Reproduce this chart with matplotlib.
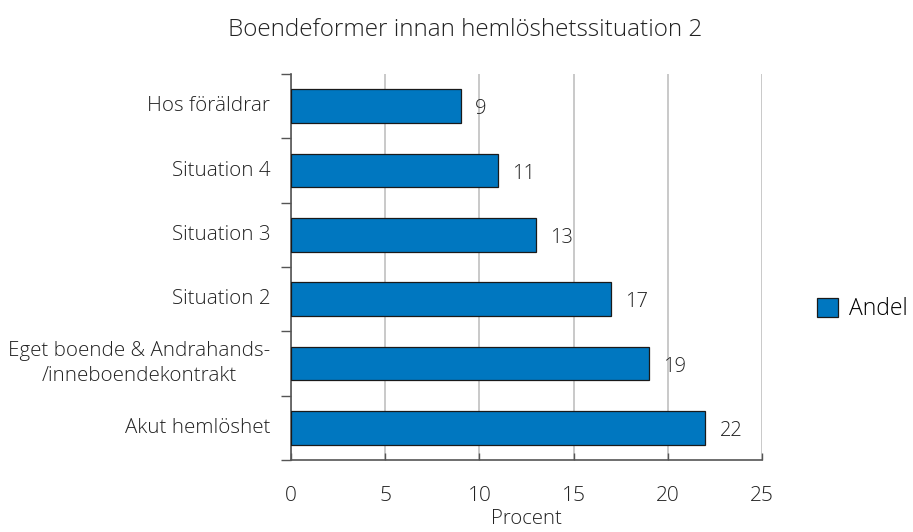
import matplotlib
matplotlib.use("Agg")
import matplotlib.pyplot as plt
from matplotlib.patches import Patch
import numpy as np

categories = ["Akut hemlöshet", "Eget boende & Andrahands-\n/inneboendekontrakt",
              "Situation 2", "Situation 3", "Situation 4", "Hos föräldrar"]
values = [22, 19, 17, 13, 11, 9]
xticks = [0, 5, 10, 15, 20, 25]

plt.rcParams['font.family'] = ['Open Sans', 'DejaVu Sans']
plt.rcParams['font.weight'] = 'light'

fig = plt.figure(figsize=(9.13, 5.32), dpi=100)
ax = fig.add_axes([291/913, 1-460/532, (762-291)/913, (460-74)/532])

color = '#0077c0'
y = np.arange(len(categories))
ax.barh(y, values, height=0.52, color=color, edgecolor='#1a1a1a', linewidth=0.9, zorder=3)
for yi, v in zip(y, values):
    ax.text(v + 0.75, yi - 0.05, str(v), va='center', ha='left', fontsize=14.5,
            color='#222222', fontweight='light')

ax.set_xlim(0, 25)
ax.set_ylim(-0.5, len(categories) - 0.5)
ax.set_xticks(xticks)
ax.set_xticklabels([str(t) for t in xticks], fontsize=15, color='#222222')
ax.tick_params(axis='x', direction='in', length=5, width=1, color='#555555', pad=19)

ax.set_yticks(np.arange(-0.5, len(categories), 1.0))
ax.set_yticklabels([])
ax.tick_params(axis='y', direction='out', length=7, width=1, color='#555555')
for yi, c in zip(y, categories):
    ax.text(-1.1, yi, c, ha='right', va='center',
            fontsize=14.8, color='#222222', fontweight='light',
            transform=ax.transData, multialignment='center', linespacing=1.35)

ax.grid(axis='x', color='#c0c0c0', linewidth=1.2, zorder=0)
for s in ['top', 'right']:
    ax.spines[s].set_visible(False)
for s in ['left', 'bottom']:
    ax.spines[s].set_color('#555555')
    ax.spines[s].set_linewidth(1.2)

ax.set_xlabel("Procent", fontsize=14.7, color='#222222', labelpad=2, fontweight='light')
fig.text(465/913, 1-30/532, "Boendeformer innan hemlöshetssituation 2", ha='center',
         va='center', fontsize=17.5, color='#222222', fontweight='light')

handle = Patch(facecolor=color, edgecolor='#1a1a1a', linewidth=0.9)
fig.legend([handle], ["Andel"], loc='center left', bbox_to_anchor=(817/913, 1-309/532),
           frameon=False, fontsize=16.5, handlelength=0.9, handleheight=0.9,
           handletextpad=0.5, borderpad=0, borderaxespad=0)

fig.savefig("out.png", dpi=100)
